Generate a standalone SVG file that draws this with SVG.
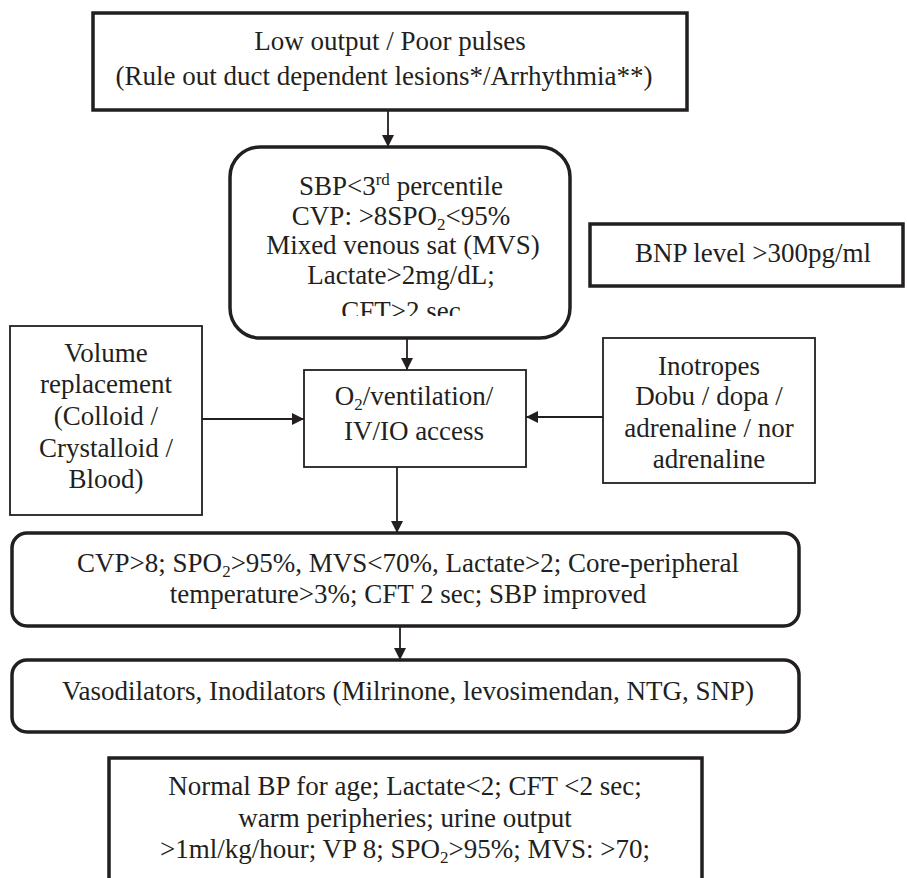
<svg xmlns="http://www.w3.org/2000/svg" width="907" height="878" viewBox="0 0 907 878" font-family="'Liberation Serif', 'DejaVu Serif', serif">
<defs>
<style>
text{font-family:'Liberation Serif','DejaVu Serif',serif;font-size:27px;fill:#231f20;text-anchor:middle}
.thick{fill:#fff;stroke:#231f20;stroke-width:3.5}
.thin{fill:#fff;stroke:#231f20;stroke-width:1.8}
.conn{stroke:#231f20;stroke-width:1.8;fill:none;marker-end:url(#ah)}
.sm{font-size:17px}
</style>
<marker id="ah" markerUnits="userSpaceOnUse" markerWidth="14" markerHeight="12" refX="12" refY="6" orient="auto">
<path d="M0,0 L12,6 L0,12 Z" fill="#231f20"/>
</marker>
<clipPath id="sbpclip"><rect x="230" y="147" width="340" height="169"/></clipPath>
</defs>
<rect width="907" height="878" fill="#fff"/>
<g id="connectors">
<line class="conn" x1="388" y1="110" x2="388" y2="147"/>
<line class="conn" x1="407" y1="338" x2="407" y2="370"/>
<line class="conn" x1="202" y1="419" x2="304" y2="419"/>
<line class="conn" x1="603" y1="417" x2="526" y2="417"/>
<line class="conn" x1="397" y1="467" x2="397" y2="533"/>
<line class="conn" x1="400" y1="626" x2="400" y2="660"/>
</g>
<g id="n-low-output">
<rect class="thick" x="93" y="13" width="594" height="97"/>
<text x="390" y="50">Low output / Poor pulses</text>
<text x="384" y="85">(Rule out duct dependent lesions*/Arrhythmia**)</text>
</g>
<g id="n-sbp">
<rect class="thick" x="230" y="147" width="340" height="191" rx="30" ry="30"/>
<g clip-path="url(#sbpclip)">
<text x="401" y="195">SBP&lt;3<tspan class="sm" dy="-10">rd</tspan><tspan dy="10"> percentile</tspan></text>
<text x="401" y="225">CVP: &gt;8SPO<tspan class="sm" dy="5">2</tspan><tspan dy="-5">&lt;95%</tspan></text>
<text x="403" y="254">Mixed venous sat (MVS)</text>
<text x="401" y="284">Lactate&gt;2mg/dL;</text>
<text x="401" y="320">CFT&gt;2 sec</text>
</g>
</g>
<g id="n-bnp">
<rect class="thick" x="590" y="224" width="313" height="62"/>
<text x="753" y="262">BNP level &gt;300pg/ml</text>
</g>
<g id="n-volume">
<rect class="thin" x="10" y="326" width="192" height="189"/>
<text x="106" y="362">Volume</text>
<text x="106" y="393">replacement</text>
<text x="106" y="425">(Colloid /</text>
<text x="106" y="457">Crystalloid /</text>
<text x="106" y="488">Blood)</text>
</g>
<g id="n-o2">
<rect class="thin" x="304" y="370" width="222" height="97"/>
<text x="414" y="405">O<tspan class="sm" dy="5">2</tspan><tspan dy="-5">/ventilation/</tspan></text>
<text x="414" y="440">IV/IO access</text>
</g>
<g id="n-inotropes">
<rect class="thin" x="603" y="338" width="212" height="145"/>
<text x="709" y="375">Inotropes</text>
<text x="709" y="405">Dobu / dopa /</text>
<text x="709" y="437">adrenaline / nor</text>
<text x="709" y="468">adrenaline</text>
</g>
<g id="n-cvp">
<rect class="thick" x="12" y="533" width="787" height="93" rx="15" ry="15"/>
<text x="408" y="572">CVP&gt;8; SPO<tspan class="sm" dy="5">2</tspan><tspan dy="-5">&gt;95%, MVS&lt;70%, Lactate&gt;2; Core-peripheral</tspan></text>
<text x="408" y="603">temperature&gt;3%; CFT 2 sec; SBP improved</text>
</g>
<g id="n-vaso">
<rect class="thick" x="12" y="660" width="787" height="72" rx="15" ry="15"/>
<text x="408" y="700">Vasodilators, Inodilators (Milrinone, levosimendan, NTG, SNP)</text>
</g>
<g id="n-normal">
<rect class="thick" x="109" y="758" width="593" height="140"/>
<text x="405" y="795">Normal BP for age; Lactate&lt;2; CFT &lt;2 sec;</text>
<text x="405" y="827">warm peripheries; urine output</text>
<text x="405" y="858">&gt;1ml/kg/hour; VP 8; SPO<tspan class="sm" dy="5">2</tspan><tspan dy="-5">&gt;95%; MVS: &gt;70;</tspan></text>
</g>
</svg>
